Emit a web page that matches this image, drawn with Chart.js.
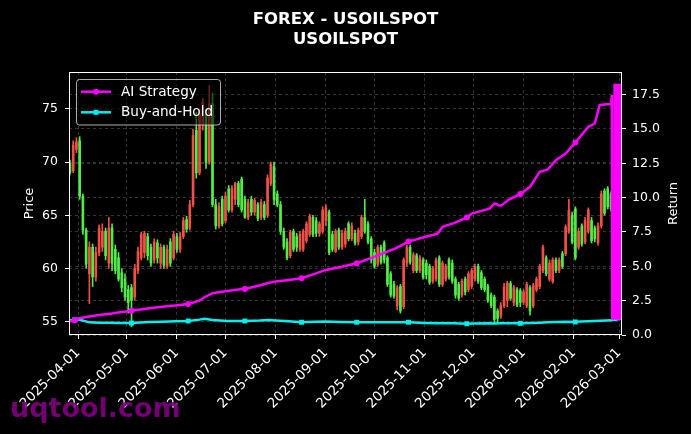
<!DOCTYPE html>
<html>
<head>
<meta charset="utf-8">
<script src="https://cdn.jsdelivr.net/npm/chart.js@4.4.1/dist/chart.umd.min.js"></script>
<style>
  html, body { margin: 0; padding: 0; background: #000; }
  #wrap { width: 691px; height: 434px; }
</style>
</head>
<body>
<div id="wrap"><canvas id="chart" width="691" height="434"></canvas></div>
<script>
// USOILSPOT candles (one every 2 days) with AI Strategy / Buy-and-Hold returns

const candleStart = '2025-03-27';
const candleStepDays = 2;

const opens = [
  69.8, 69.2, 71.2, 72.0, 66.8, 63.6, 59.5, 62.0, 59.2, 61.5,
  62.0, 63.5, 60.5, 63.8, 61.8, 61.0, 59.6, 59.0, 58.0, 58.2,
  57.3, 59.8, 61.0, 61.5, 63.0, 62.0, 60.8, 62.4, 60.5, 62.0,
  60.2, 62.5, 61.0, 63.0, 61.8, 63.0, 64.6, 63.8, 66.0, 73.0,
  69.0, 73.5, 74.5, 70.0, 75.5, 66.0, 64.0, 66.5, 64.5, 67.5,
  65.5, 66.5, 68.0, 68.4, 66.5, 64.8, 66.5, 65.3, 66.0, 64.8,
  66.0, 65.0, 68.0, 69.6, 67.0, 66.0, 63.5, 62.5, 61.2, 63.5,
  63.0, 61.8, 61.8, 62.6, 63.2, 64.8, 64.5, 63.3, 63.5, 64.5,
  65.3, 63.2, 61.6, 63.6, 62.0, 62.3, 64.2, 62.8, 63.3, 62.5,
  63.0, 64.8, 64.2, 62.8, 61.5, 60.4, 62.0, 62.4, 61.0, 59.5,
  58.5, 56.5, 58.3, 56.4, 60.5, 62.0, 59.8, 61.2, 59.8, 60.8,
  60.5, 60.2, 58.8, 59.0, 61.0, 58.5, 59.0, 60.8, 60.5, 59.0,
  58.5, 57.5, 59.0, 58.0, 58.3, 59.0, 60.2, 59.6, 59.0, 58.3,
  57.5, 57.3, 56.0, 55.5, 56.5, 57.0, 58.6, 56.8, 58.0, 57.9,
  56.8, 56.5, 58.2, 56.5, 58.0, 58.3, 59.8, 61.0, 59.0, 58.8,
  60.8, 59.8, 61.4, 61.4, 63.5, 65.0, 65.6, 62.0, 64.0, 62.5,
  63.5, 64.5, 63.8, 62.4, 64.0, 67.3, 67.5, 67.0
];
const highs = [
  70.2, 72.0, 72.3, 72.4, 67.0, 63.8, 62.5, 62.3, 62.0, 64.1,
  64.2, 63.8, 64.8, 64.2, 62.2, 61.5, 60.0, 59.5, 58.4, 58.5,
  60.4, 62.0, 63.4, 63.5, 63.3, 62.3, 62.8, 62.7, 62.3, 62.2,
  62.2, 62.8, 63.5, 63.3, 63.4, 64.8, 64.9, 66.4, 73.1, 74.7,
  75.0, 76.0, 75.0, 77.2, 76.5, 66.5, 66.2, 66.8, 67.2, 67.8,
  67.8, 68.1, 68.2, 68.6, 66.8, 66.5, 66.8, 66.6, 66.2, 66.5,
  66.3, 68.8, 70.0, 70.0, 67.3, 66.3, 63.8, 62.8, 63.6, 63.7,
  63.3, 63.5, 63.7, 64.4, 65.1, 65.0, 64.8, 64.4, 65.8, 66.0,
  65.5, 63.5, 63.7, 63.8, 63.6, 63.8, 64.4, 64.3, 63.6, 63.8,
  65.0, 66.5, 64.4, 63.0, 61.8, 62.2, 62.2, 62.6, 61.2, 59.7,
  58.8, 58.4, 58.5, 61.0, 62.2, 62.2, 61.5, 61.4, 61.2, 61.0,
  60.8, 60.4, 60.2, 61.0, 61.2, 60.7, 60.4, 61.0, 60.8, 59.2,
  58.7, 59.0, 59.2, 59.7, 60.0, 60.4, 60.4, 59.8, 59.2, 58.5,
  57.7, 57.5, 56.2, 56.8, 58.6, 58.8, 58.8, 58.4, 58.2, 58.1,
  58.0, 58.7, 58.4, 58.6, 59.2, 60.4, 62.2, 61.2, 60.8, 61.0,
  61.0, 61.0, 61.6, 64.1, 66.5, 65.3, 65.8, 63.8, 64.2, 64.8,
  65.7, 64.8, 64.0, 64.3, 67.3, 67.5, 67.7, 67.2
];
const lows = [
  68.8, 69.0, 70.9, 66.5, 63.2, 60.0, 56.7, 58.3, 58.8, 61.2,
  61.6, 60.8, 60.0, 59.8, 59.5, 58.8, 57.8, 57.0, 55.8, 54.5,
  57.0, 59.5, 60.8, 61.0, 60.8, 60.2, 60.5, 60.5, 60.0, 60.0,
  60.0, 60.2, 60.8, 61.5, 61.5, 62.8, 63.4, 63.6, 65.8, 68.5,
  68.8, 73.0, 69.4, 69.8, 65.8, 63.7, 63.8, 64.0, 64.3, 65.3,
  65.3, 66.0, 65.8, 65.3, 64.7, 64.6, 65.0, 65.0, 64.5, 64.6,
  64.6, 64.8, 67.8, 66.0, 65.8, 63.2, 61.8, 60.8, 61.0, 61.6,
  61.6, 61.6, 61.6, 62.4, 63.0, 63.0, 63.0, 63.0, 63.3, 64.0,
  61.3, 61.6, 61.5, 61.8, 61.8, 62.0, 62.6, 62.6, 62.2, 62.2,
  62.8, 63.3, 62.3, 60.5, 60.0, 60.2, 60.4, 60.5, 58.3, 57.3,
  57.2, 56.1, 55.8, 56.2, 60.2, 60.4, 59.6, 59.6, 59.6, 59.0,
  59.0, 58.5, 58.6, 58.8, 58.3, 58.3, 58.8, 59.0, 58.6, 57.2,
  57.0, 57.3, 57.5, 57.8, 58.1, 58.8, 58.6, 58.0, 57.8, 56.8,
  56.3, 54.9, 54.8, 55.3, 56.3, 56.4, 57.0, 56.5, 56.4, 56.4,
  56.6, 56.3, 55.6, 56.3, 57.8, 58.1, 59.6, 59.3, 58.8, 58.6,
  59.6, 59.6, 60.0, 61.2, 63.3, 62.3, 60.8, 61.8, 62.1, 62.3,
  63.3, 62.4, 62.5, 62.2, 63.8, 65.0, 65.6, 65.4
];
const closes = [
  69.0, 71.6, 71.9, 66.8, 63.6, 60.4, 62.0, 59.2, 61.5, 63.8,
  63.5, 61.2, 63.8, 60.5, 59.8, 59.0, 58.2, 57.3, 56.8, 57.0,
  60.0, 61.6, 63.2, 63.3, 61.2, 60.5, 62.5, 61.0, 62.0, 60.3,
  61.8, 60.5, 63.2, 61.8, 63.0, 64.5, 63.7, 66.0, 72.5, 69.0,
  74.5, 75.7, 70.0, 75.5, 66.0, 64.0, 65.8, 64.2, 66.8, 65.5,
  67.5, 68.0, 66.0, 65.5, 64.8, 66.2, 65.3, 66.4, 64.7, 66.2,
  64.8, 68.5, 69.8, 66.5, 66.0, 63.5, 62.0, 61.0, 63.4, 61.8,
  62.0, 63.2, 63.5, 64.2, 64.9, 63.2, 63.3, 64.2, 65.5, 65.7,
  61.5, 61.8, 63.5, 62.0, 63.3, 63.5, 62.8, 64.0, 62.4, 63.6,
  64.8, 63.5, 62.5, 60.8, 60.2, 62.0, 60.6, 60.8, 58.5, 57.5,
  57.4, 58.2, 56.0, 60.8, 62.0, 60.6, 61.3, 59.8, 61.0, 59.2,
  59.4, 58.7, 60.0, 60.8, 58.5, 60.5, 60.2, 59.2, 58.8, 57.5,
  57.2, 58.8, 57.8, 59.5, 59.8, 60.2, 58.8, 58.2, 58.0, 57.0,
  56.5, 55.2, 55.3, 56.5, 58.3, 58.6, 57.2, 58.2, 56.6, 56.8,
  57.8, 58.5, 56.0, 58.4, 59.0, 60.2, 62.0, 59.5, 60.5, 60.8,
  59.8, 60.8, 60.2, 63.9, 65.5, 62.5, 61.0, 63.5, 62.3, 64.5,
  65.5, 62.6, 62.8, 64.0, 67.0, 65.2, 65.8, 65.6
];

const returnDates = [
  '2025-03-27', '2025-03-30', '2025-04-01', '2025-04-08', '2025-04-14', '2025-04-21', '2025-04-27',
  '2025-05-04', '2025-05-15', '2025-05-23', '2025-05-31', '2025-06-08', '2025-06-15', '2025-06-18',
  '2025-06-23', '2025-07-02', '2025-07-10', '2025-07-13', '2025-07-22', '2025-07-28', '2025-08-01',
  '2025-08-09', '2025-08-17', '2025-08-25', '2025-09-01', '2025-09-10', '2025-09-20', '2025-10-01',
  '2025-10-14', '2025-10-22', '2025-11-01', '2025-11-09', '2025-11-12', '2025-11-19', '2025-11-27',
  '2025-11-30', '2025-12-11', '2025-12-14', '2025-12-18', '2025-12-23', '2025-12-30', '2026-01-05',
  '2026-01-11', '2026-01-16', '2026-01-21', '2026-01-27', '2026-02-02', '2026-02-05', '2026-02-10',
  '2026-02-14', '2026-02-17', '2026-02-21', '2026-02-24',
  '2026-02-24T12:00', '2026-02-24T19:00', '2026-02-25T22:00', '2026-02-26T05:00', '2026-02-26T12:00',
  '2026-02-26T19:00', '2026-02-27T02:00', '2026-02-27T10:00', '2026-02-27T17:00', '2026-02-28T07:00',
  '2026-02-28T14:00', '2026-02-28T22:00', '2026-03-01T05:00', '2026-03-01T12:00', '2026-03-01T19:00',
  '2026-03-02T02:00', '2026-03-02T07:00'
];
const aiReturn = [
  1.0, 1.08, 1.2, 1.35, 1.45, 1.55, 1.65, 1.77, 1.95, 2.05, 2.14, 2.26, 2.5, 2.75, 3.04, 3.2, 3.33,
  3.35, 3.6, 3.8, 3.9, 4.0, 4.13, 4.45, 4.74, 4.95, 5.22, 5.7, 6.3, 6.8, 7.14, 7.38, 7.87, 8.15, 8.55,
  8.84, 9.2, 9.57, 9.4, 9.86, 10.26, 10.79, 11.88, 12.05, 12.73, 13.21, 14.02, 14.43, 15.16, 15.4,
  16.74, 16.8, 16.8,
  17.47, 1.2, 1.2, 18.3, 1.2, 18.3, 1.2, 18.3, 1.2, 18.3, 1.2, 18.3, 1.2, 18.3, 1.2, 18.3, 1.25
];
const bhReturn = [
  1.08, 1.1, 1.15, 0.92, 0.9, 0.9, 0.88, 0.87, 0.95, 0.97, 1.0, 1.02, 1.12, 1.18, 1.1, 1.02, 1.02,
  1.02, 1.05, 1.1, 1.06, 1.0, 0.93, 0.97, 0.98, 0.95, 0.93, 0.92, 0.93, 0.93, 0.88, 0.86, 0.86, 0.85,
  0.82, 0.83, 0.85, 0.84, 0.85, 0.85, 0.85, 0.87, 0.9, 0.92, 0.95, 0.96, 0.95, 0.98, 1.0, 1.02,
  1.04, 1.06, 1.08,
  1.08, 1.09, 1.1, 1.1, 1.11, 1.12, 1.13, 1.14, 1.15, 1.16, 1.17, 1.18, 1.19, 1.2, 1.2, 1.21, 1.21
];
const markerDates = [
  '2025-03-30', '2025-05-04', '2025-06-08', '2025-07-13', '2025-08-17',
  '2025-09-20', '2025-10-22', '2025-11-27', '2025-12-30', '2026-02-02'
];

const monthTicks = [
  '2025-04-01', '2025-05-01', '2025-06-01', '2025-07-01', '2025-08-01', '2025-09-01',
  '2025-10-01', '2025-11-01', '2025-12-01', '2026-01-01', '2026-02-01', '2026-03-01'
];
const priceTicks = [55, 60, 65, 70, 75];
const returnTicks = [0, 2.5, 5, 7.5, 10, 12.5, 15, 17.5];

const UP = 'rgb(240,80,72)';
const DOWN = 'rgb(82,236,70)';
const AI_COLOR = '#ff00ff';
const BH_COLOR = '#00f0f0';
const GRID = 'rgba(150,150,150,0.35)';
const FONT = 'DejaVu Sans';

// day numbers relative to 2025-04-01 (UTC)
const base = Date.UTC(2025, 3, 1);
function dayOf(s) {
  const t = s.length > 10 ? Date.parse(s + ':00Z') : Date.parse(s + 'T00:00:00Z');
  return (t - base) / 864e5;
}
function dateStr(v) {
  return new Date(base + Math.round(v) * 864e5).toISOString().slice(0, 10);
}

const start = dayOf(candleStart);
const candleDays = opens.map((_, i) => start + i * candleStepDays);
const isUp = i => closes[i] >= opens[i];

const wickData = candleDays.map((d, i) => ({ x: d, y: [lows[i], highs[i]] }));
const bodyData = candleDays.map((d, i) => ({ x: d, y: [opens[i], closes[i]] }));
const aiData = returnDates.map((d, i) => ({ x: dayOf(d), y: aiReturn[i] }));
const bhData = returnDates.map((d, i) => ({ x: dayOf(d), y: bhReturn[i] }));
const markerIdx = new Set(markerDates.map(d => returnDates.indexOf(d)));

const decor = {
  id: 'decor',
  beforeDraw(chart) {
    const ctx = chart.ctx;
    ctx.save();
    ctx.fillStyle = '#000';
    ctx.fillRect(0, 0, chart.width, chart.height);
    ctx.restore();
  },
  afterDatasetsDraw(chart) {
    const { ctx, chartArea: a } = chart;
    ctx.save();
    // frame
    ctx.strokeStyle = '#fff';
    ctx.lineWidth = 1;
    ctx.strokeRect(Math.round(a.left) + 0.5, Math.round(a.top) + 0.5,
      Math.round(a.right - a.left) - 1, Math.round(a.bottom - a.top) - 1);

    // legend
    const bx = 76.5, by = 79.5, bw = 144, bh = 45.5;
    ctx.beginPath();
    ctx.roundRect(bx, by, bw, bh, 3);
    ctx.fillStyle = 'rgba(0,0,0,0.6)';
    ctx.fill();
    ctx.strokeStyle = 'rgba(204,204,204,0.85)';
    ctx.stroke();
    const items = [
      { label: 'AI Strategy', color: AI_COLOR, y: 91.7, marker: 'circle' },
      { label: 'Buy-and-Hold', color: BH_COLOR, y: 112.3, marker: 'rect' }
    ];
    ctx.font = '13.6px ' + FONT;
    ctx.textBaseline = 'middle';
    items.forEach(it => {
      ctx.strokeStyle = it.color;
      ctx.fillStyle = it.color;
      ctx.lineWidth = 2.5;
      ctx.beginPath();
      ctx.moveTo(81, it.y);
      ctx.lineTo(111, it.y);
      ctx.stroke();
      if (it.marker === 'circle') {
        ctx.beginPath();
        ctx.arc(96, it.y, 3, 0, Math.PI * 2);
        ctx.fill();
      } else {
        ctx.fillRect(93.5, it.y - 2.5, 5, 5);
      }
      ctx.fillStyle = '#fff';
      ctx.fillText(it.label, 121, it.y + 0.5);
    });
    ctx.restore();
  },
  afterDraw(chart) {
    const ctx = chart.ctx;
    const a = chart.chartArea;
    const cx = (a.left + a.right) / 2;
    ctx.save();
    ctx.fillStyle = '#fff';
    ctx.textAlign = 'center';
    ctx.textBaseline = 'alphabetic';
    ctx.font = 'bold 16.5px ' + FONT;
    ctx.fillText('FOREX - USOILSPOT', cx, 24);
    ctx.fillText('USOILSPOT', cx, 44.3);

    // right axis title, reading bottom to top
    ctx.save();
    ctx.translate(673.5, (a.top + a.bottom) / 2);
    ctx.rotate(-Math.PI / 2);
    ctx.font = '13px ' + FONT;
    ctx.textBaseline = 'middle';
    ctx.fillText('Return', 0, 0);
    ctx.restore();

    ctx.textAlign = 'left';
    ctx.font = 'bold 27px ' + FONT;
    ctx.fillStyle = 'rgba(128,0,128,0.9)';
    ctx.fillText('uqtool.com', 10, 416.5);
    ctx.restore();
  }
};

const tickFont = { family: FONT, size: 12.5 };

new Chart(document.getElementById('chart'), {
  type: 'bar',
  data: {
    datasets: [
      {
        type: 'line', label: 'AI Strategy', data: aiData, yAxisID: 'y2', order: 0,
        borderColor: AI_COLOR, backgroundColor: AI_COLOR, borderWidth: 2.5, tension: 0,
        pointStyle: 'circle',
        pointRadius: c => markerIdx.has(c.dataIndex) ? 3 : 0,
        pointBorderWidth: 0
      },
      {
        type: 'line', label: 'Buy-and-Hold', data: bhData, yAxisID: 'y2', order: 1,
        borderColor: BH_COLOR, backgroundColor: BH_COLOR, borderWidth: 2.5, tension: 0,
        pointStyle: 'rect',
        pointRadius: c => markerIdx.has(c.dataIndex) ? 3.5 : 0,
        pointBorderWidth: 0
      },
      {
        label: 'body', data: bodyData, yAxisID: 'y', order: 2, grouped: false,
        barThickness: 2, minBarLength: 1, borderWidth: 0,
        backgroundColor: c => isUp(c.dataIndex) ? UP : DOWN
      },
      {
        label: 'wick', data: wickData, yAxisID: 'y', order: 3, grouped: false,
        barThickness: 1, borderWidth: 0,
        backgroundColor: c => isUp(c.dataIndex) ? UP : DOWN
      }
    ]
  },
  options: {
    responsive: false,
    animation: false,
    devicePixelRatio: 1,
    layout: { padding: { top: 72, left: 0, right: 0, bottom: 0 } },
    plugins: { legend: { display: false }, tooltip: { enabled: false } },
    scales: {
      x: {
        type: 'linear',
        min: dayOf('2025-03-26T10:00'),
        max: dayOf('2026-03-02T19:00'),
        offset: false,
        grid: { color: GRID, offset: false, tickLength: 4, tickColor: '#fff', tickWidth: 1, tickBorderDash: [] },
        border: { display: false, dash: [3, 3] },
        ticks: {
          color: '#fff', font: { family: FONT, size: 13.5 }, minRotation: 45, maxRotation: 45,
          autoSkip: false, padding: 6,
          callback: v => dateStr(v)
        },
        afterBuildTicks: s => { s.ticks = monthTicks.map(d => ({ value: dayOf(d) })); },
        afterFit: s => { s.height = 99; }
      },
      y: {
        position: 'left',
        min: 53.74, max: 78.48,
        grid: { color: GRID, tickLength: 4, tickColor: '#fff', tickWidth: 1, tickBorderDash: [] },
        border: { display: false, dash: [3, 3] },
        ticks: { color: '#fff', font: tickFont, padding: 7 },
        afterBuildTicks: s => { s.ticks = priceTicks.map(v => ({ value: v })); },
        afterFit: s => { s.width = 69; },
        title: { display: true, text: 'Price', color: '#fff', font: { family: FONT, size: 13 }, padding: { top: 22 } }
      },
      y2: {
        position: 'right',
        min: 0, max: 19.15,
        grid: { color: GRID, tickLength: 4, tickColor: '#fff', tickWidth: 1, tickBorderDash: [] },
        border: { display: false, dash: [3, 3] },
        ticks: { color: '#fff', font: tickFont, padding: 6, callback: v => v.toFixed(1) },
        afterBuildTicks: s => { s.ticks = returnTicks.map(v => ({ value: v })); },
        afterFit: s => { s.width = 69; }
      }
    }
  },
  plugins: [decor]
});
</script>
</body>
</html>
